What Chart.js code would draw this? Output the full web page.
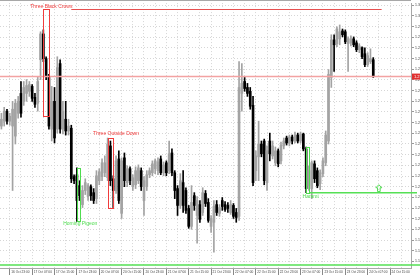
<!DOCTYPE html>
<html>
<head>
<meta charset="utf-8">
<script src="https://cdn.jsdelivr.net/npm/chart.js@4.4.1/dist/chart.umd.min.js"></script>
<style>
  html, body { margin: 0; padding: 0; background: #fff; overflow: hidden; }
</style>
</head>
<body>
<canvas id="chart" width="420" height="280"></canvas>
<script>
// trading days shown on the H1 axis (weekend skipped), first bar at 16 Oct 20:00
const days = ['16 Oct', '17 Oct', '20 Oct', '21 Oct', '22 Oct', '23 Oct', '24 Oct'];
const startHour = 20;
const slotCount = 147; // includes the empty shift area on the right

// candles
const opens = [1.2484,1.2507,1.2554,1.2507,1.2484,1.2437,1.2544,1.2637,1.2600,1.2637,
  1.2647,1.2670,1.2619,1.2591,1.2795,1.2916,1.2800,1.2716,1.2470,1.2600,
  1.2470,1.2777,1.2470,1.2516,1.2461,1.2474,1.2247,1.2256,1.2205,1.2116,
  1.2182,1.2154,1.2200,1.2172,1.2144,1.2228,1.2247,1.2265,1.2242,1.2391,
  1.2237,1.2182,1.2330,1.2075,1.2335,1.2219,1.2284,1.2200,1.2209,1.2228,
  1.2275,1.2135,1.2200,1.2256,1.2265,1.2284,1.2275,1.2330,1.2265,1.2312,
  1.2275,1.2358,1.2265,1.2191,1.2112,1.2219,1.2182,1.2098,1.2014,1.2158,
  1.2065,1.2116,1.2079,1.2168,1.2126,1.2014,1.2033,1.2116,1.2075,1.2135,
  1.2116,1.2112,1.2079,1.2112,1.2079,1.2061,1.2637,1.2693,1.2665,1.2647,
  1.2581,1.2275,1.2340,1.2400,1.2414,1.2219,1.2414,1.2344,1.2312,1.2368,
  1.2321,1.2391,1.2428,1.2405,1.2433,1.2414,1.2442,1.2414,1.2447,1.2377,
  1.2205,1.2191,1.2307,1.2275,1.2214,1.2261,1.2312,1.2414,1.2712,1.2888,
  1.2870,1.2893,1.2930,1.2926,1.2870,1.2874,1.2893,1.2874,1.2842,1.2851,
  1.2823,1.2772,1.2786,1.2795];
const highs = [1.2544,1.2572,1.2563,1.2544,1.2600,1.2609,1.2623,1.2693,1.2693,1.2702,
  1.2693,1.2679,1.2637,1.2716,1.2926,1.2935,1.2809,1.2726,1.2670,1.2665,
  1.2809,1.2795,1.2600,1.2600,1.2516,1.2488,1.2256,1.2288,1.2228,1.2205,
  1.2237,1.2214,1.2209,1.2191,1.2275,1.2284,1.2330,1.2344,1.2428,1.2414,
  1.2251,1.2344,1.2368,1.2335,1.2358,1.2298,1.2293,1.2256,1.2293,1.2302,
  1.2288,1.2247,1.2275,1.2288,1.2321,1.2330,1.2335,1.2344,1.2316,1.2321,
  1.2414,1.2377,1.2275,1.2205,1.2261,1.2275,1.2195,1.2112,1.2205,1.2172,
  1.2154,1.2135,1.2195,1.2182,1.2144,1.2065,1.2135,1.2135,1.2116,1.2149,
  1.2130,1.2126,1.2135,1.2121,1.2098,1.2786,1.2777,1.2712,1.2684,1.2665,
  1.2623,1.2368,1.2507,1.2414,1.2423,1.2391,1.2451,1.2414,1.2386,1.2377,
  1.2409,1.2428,1.2437,1.2442,1.2442,1.2456,1.2451,1.2456,1.2451,1.2386,
  1.2298,1.2321,1.2321,1.2288,1.2279,1.2335,1.2461,1.2749,1.2912,1.2912,
  1.2949,1.2958,1.2939,1.2935,1.2902,1.2907,1.2902,1.2884,1.2870,1.2856,
  1.2851,1.2828,1.2846,1.2805];
const lows = [1.2470,1.2484,1.2493,1.2488,1.2182,1.2400,1.2521,1.2526,1.2581,1.2600,
  1.2623,1.2600,1.2572,1.2554,1.2702,1.2786,1.2702,1.2470,1.2414,1.2405,
  1.2451,1.2451,1.2447,1.2442,1.2442,1.2219,1.2214,1.2037,1.2135,1.2102,
  1.2163,1.2135,1.2135,1.2121,1.2121,1.2209,1.2228,1.2247,1.2228,1.2205,
  1.2102,1.2168,1.2121,1.2051,1.2200,1.2200,1.2209,1.2182,1.2191,1.2214,
  1.2182,1.2065,1.2182,1.2242,1.2251,1.2261,1.2256,1.2256,1.2251,1.2251,
  1.2261,1.2251,1.2144,1.2065,1.2098,1.2079,1.2075,1.2005,1.2000,1.2089,
  1.1935,1.2033,1.2065,1.2107,1.2033,1.1986,1.1893,1.2065,1.2061,1.2089,
  1.2084,1.2079,1.2070,1.2051,1.2033,1.2042,1.2554,1.2647,1.2623,1.2563,
  1.2205,1.2228,1.2228,1.2340,1.2209,1.2182,1.2321,1.2330,1.2298,1.2293,
  1.2307,1.2377,1.2395,1.2391,1.2400,1.2405,1.2405,1.2405,1.2368,1.2172,
  1.2182,1.2144,1.2219,1.2195,1.2186,1.2247,1.2298,1.2400,1.2665,1.2740,
  1.2856,1.2865,1.2902,1.2870,1.2740,1.2860,1.2856,1.2833,1.2828,1.2800,
  1.2763,1.2763,1.2777,1.2712];
const closes = [1.2516,1.2554,1.2507,1.2530,1.2563,1.2591,1.2600,1.2544,1.2665,1.2674,
  1.2679,1.2614,1.2586,1.2693,1.2916,1.2800,1.2716,1.2484,1.2600,1.2428,
  1.2758,1.2470,1.2554,1.2461,1.2484,1.2237,1.2228,1.2135,1.2158,1.2182,
  1.2219,1.2205,1.2158,1.2135,1.2251,1.2270,1.2312,1.2312,1.2400,1.2228,
  1.2182,1.2321,1.2135,1.2321,1.2228,1.2284,1.2228,1.2242,1.2275,1.2288,
  1.2200,1.2228,1.2256,1.2275,1.2307,1.2321,1.2316,1.2265,1.2302,1.2265,
  1.2354,1.2265,1.2182,1.2112,1.2228,1.2112,1.2089,1.2014,1.2126,1.2112,
  1.2135,1.2047,1.2172,1.2121,1.2042,1.2051,1.2107,1.2079,1.2102,1.2107,
  1.2093,1.2098,1.2116,1.2061,1.2056,1.2665,1.2684,1.2660,1.2637,1.2577,
  1.2219,1.2344,1.2400,1.2354,1.2228,1.2368,1.2354,1.2391,1.2368,1.2307,
  1.2395,1.2414,1.2405,1.2433,1.2414,1.2442,1.2414,1.2447,1.2377,1.2191,
  1.2275,1.2312,1.2237,1.2205,1.2265,1.2321,1.2442,1.2726,1.2888,1.2865,
  1.2939,1.2926,1.2912,1.2879,1.2893,1.2893,1.2865,1.2842,1.2860,1.2809,
  1.2772,1.2814,1.2800,1.2716];

// price axis
const yTop = 1.30604;
const yBottom = 1.18188;
const yStep = 0.005;

// candle pattern boxes (slot index / price)
const patterns = [
  { name: 'Three Black Crows', from: 15, to: 17, top: 1.3032, bottom: 1.2530, color: '#f03c3c', textSlot: 10.3, textPrice: 1.3042 },
  { name: 'Three Outside Down', from: 38, to: 40, top: 1.2428, bottom: 1.2098, color: '#f03c3c', textSlot: 32.8, textPrice: 1.2447 },
  { name: 'Homing Pigeon', from: 27, to: 28, top: 1.2288, bottom: 1.2037, color: '#4fdc4f', textSlot: 22.1, textPrice: 1.2026 },
  { name: 'Harami', from: 109, to: 110, top: 1.2386, bottom: 1.2172, color: '#4fdc4f', textSlot: 107.7, textPrice: 1.2154 }
];
const resistanceLevel = { price: 1.3032, from: 25, to: 136 };
const haramiLevel = { price: 1.2172, from: 110 };
const bottomLevel = 1.1833;
const arrowMark = { slot: 135, tip: 1.2209, base: 1.2177 };

// hourly slot labels
const slotLabels = [];
const slotHours = [];
for (let d = 0; d < days.length && slotLabels.length < slotCount; d++) {
  for (let h = d === 0 ? startHour : 0; h < 24 && slotLabels.length < slotCount; h++) {
    slotLabels.push(days[d] + ' ' + String(h).padStart(2, '0') + ':00');
    slotHours.push(h);
  }
}

const bull = '#a3a3a3';
const bear = '#000000';
const candleColors = opens.map((o, i) => closes[i] >= o ? bull : bear);
const bodies = opens.map((o, i) => [o, closes[i]]);
const wicks = lows.map((l, i) => [l, highs[i]]);
const bid = closes[closes.length - 1];

const gridColor = '#d6d6d6';
const frameColor = '#a8a8a8';

const marks = {
  id: 'marks',
  afterDatasetsDraw(chart) {
    const { ctx, chartArea: a, scales: { x, y } } = chart;
    const py = v => Math.round(y.getPixelForValue(v)) + 0.5;
    ctx.save();

    // top frame
    ctx.strokeStyle = frameColor;
    ctx.lineWidth = 1;
    ctx.beginPath(); ctx.moveTo(0, 0.5); ctx.lineTo(a.right, 0.5); ctx.stroke();

    // bid line
    ctx.strokeStyle = '#f3a2a2';
    ctx.lineWidth = 1.5;
    ctx.beginPath(); ctx.moveTo(a.left, y.getPixelForValue(bid)); ctx.lineTo(a.right, y.getPixelForValue(bid)); ctx.stroke();

    // resistance line on top
    ctx.strokeStyle = '#e65050';
    ctx.lineWidth = 1;
    ctx.beginPath();
    ctx.moveTo(x.getPixelForValue(resistanceLevel.from), py(resistanceLevel.price));
    ctx.lineTo(x.getPixelForValue(resistanceLevel.to), py(resistanceLevel.price));
    ctx.stroke();

    // green levels
    ctx.strokeStyle = '#55e055';
    ctx.lineWidth = 1.5;
    ctx.beginPath();
    ctx.moveTo(x.getPixelForValue(haramiLevel.from), y.getPixelForValue(haramiLevel.price));
    ctx.lineTo(a.right + 6, y.getPixelForValue(haramiLevel.price));
    ctx.stroke();
    ctx.beginPath();
    ctx.moveTo(0, y.getPixelForValue(bottomLevel));
    ctx.lineTo(chart.width, y.getPixelForValue(bottomLevel));
    ctx.stroke();

    // pattern boxes and names
    ctx.lineWidth = 1;
    ctx.font = '5px "Liberation Sans"';
    ctx.textBaseline = 'middle';
    ctx.textAlign = 'left';
    patterns.forEach(p => {
      const x1 = Math.round(x.getPixelForValue(p.from)) + 0.5;
      const x2 = Math.round(x.getPixelForValue(p.to)) + 0.5;
      const y1 = py(p.top);
      const y2 = py(p.bottom);
      ctx.strokeStyle = p.color;
      ctx.strokeRect(x1, y1, x2 - x1, y2 - y1);
      ctx.fillStyle = p.color;
      ctx.fillText(p.name, x.getPixelForValue(p.textSlot), y.getPixelForValue(p.textPrice));
    });

    // hollow up arrow
    const cx = x.getPixelForValue(arrowMark.slot);
    const t = y.getPixelForValue(arrowMark.tip);
    const b = y.getPixelForValue(arrowMark.base);
    ctx.strokeStyle = '#4fdc4f';
    ctx.beginPath();
    ctx.moveTo(cx, t);
    ctx.lineTo(cx + 3, t + 3);
    ctx.lineTo(cx + 1.3, t + 3);
    ctx.lineTo(cx + 1.3, b);
    ctx.lineTo(cx - 1.3, b);
    ctx.lineTo(cx - 1.3, t + 3);
    ctx.lineTo(cx - 3, t + 3);
    ctx.closePath();
    ctx.stroke();

    // bid price box on the axis
    const by = y.getPixelForValue(bid);
    ctx.fillStyle = '#e03030';
    ctx.fillRect(a.right + 1, by - 3, 14, 6);
    ctx.fillStyle = '#fff';
    ctx.font = '4px "Liberation Sans"';
    ctx.fillText(bid.toFixed(4), a.right + 3, by);

    ctx.restore();
  }
};

new Chart(document.getElementById('chart'), {
  type: 'bar',
  data: {
    labels: slotLabels,
    datasets: [
      {
        label: 'body',
        data: bodies,
        backgroundColor: candleColors,
        barThickness: 2,
        minBarLength: 1,
        grouped: false,
        borderWidth: 0,
        order: 0
      },
      {
        label: 'wick',
        data: wicks,
        backgroundColor: candleColors,
        barThickness: 1,
        grouped: false,
        borderWidth: 0,
        order: 1
      }
    ]
  },
  options: {
    responsive: false,
    animation: false,
    layout: { padding: { top: 1, left: 0, right: 0, bottom: 0 } },
    plugins: {
      legend: { display: false },
      tooltip: { enabled: false }
    },
    scales: {
      x: {
        offset: true,
        grid: {
          offset: false,
          drawTicks: true,
          tickLength: 7,
          color: ctx => slotHours[ctx.index] % 4 === 3 ? gridColor : 'rgba(0,0,0,0)',
          tickColor: ctx => slotHours[ctx.index] % 8 === 7 ? '#888' : 'rgba(0,0,0,0)'
        },
        border: { display: true, color: frameColor, dash: [1, 2] },
        ticks: {
          autoSkip: false,
          maxRotation: 0,
          minRotation: 0,
          align: 'start',
          padding: -5,
          labelOffset: 1.5,
          color: '#444',
          font: { family: 'Liberation Sans', size: 3.2 },
          callback: (v, i) => slotHours[i] % 8 === 7 ? slotLabels[i] : ''
        },
        afterFit: scale => { scale.height = 12; }
      },
      y: {
        position: 'right',
        min: yBottom,
        max: yTop,
        grid: { color: gridColor, tickLength: 3, tickColor: '#999' },
        border: { display: true, color: frameColor, dash: [1, 2] },
        ticks: {
          stepSize: yStep,
          includeBounds: false,
          padding: 1,
          color: '#444',
          font: { family: 'Liberation Sans', size: 3.5 },
          callback: v => v.toFixed(4)
        },
        afterFit: scale => { scale.width = 9; }
      }
    }
  },
  plugins: [marks]
});
</script>
</body>
</html>
